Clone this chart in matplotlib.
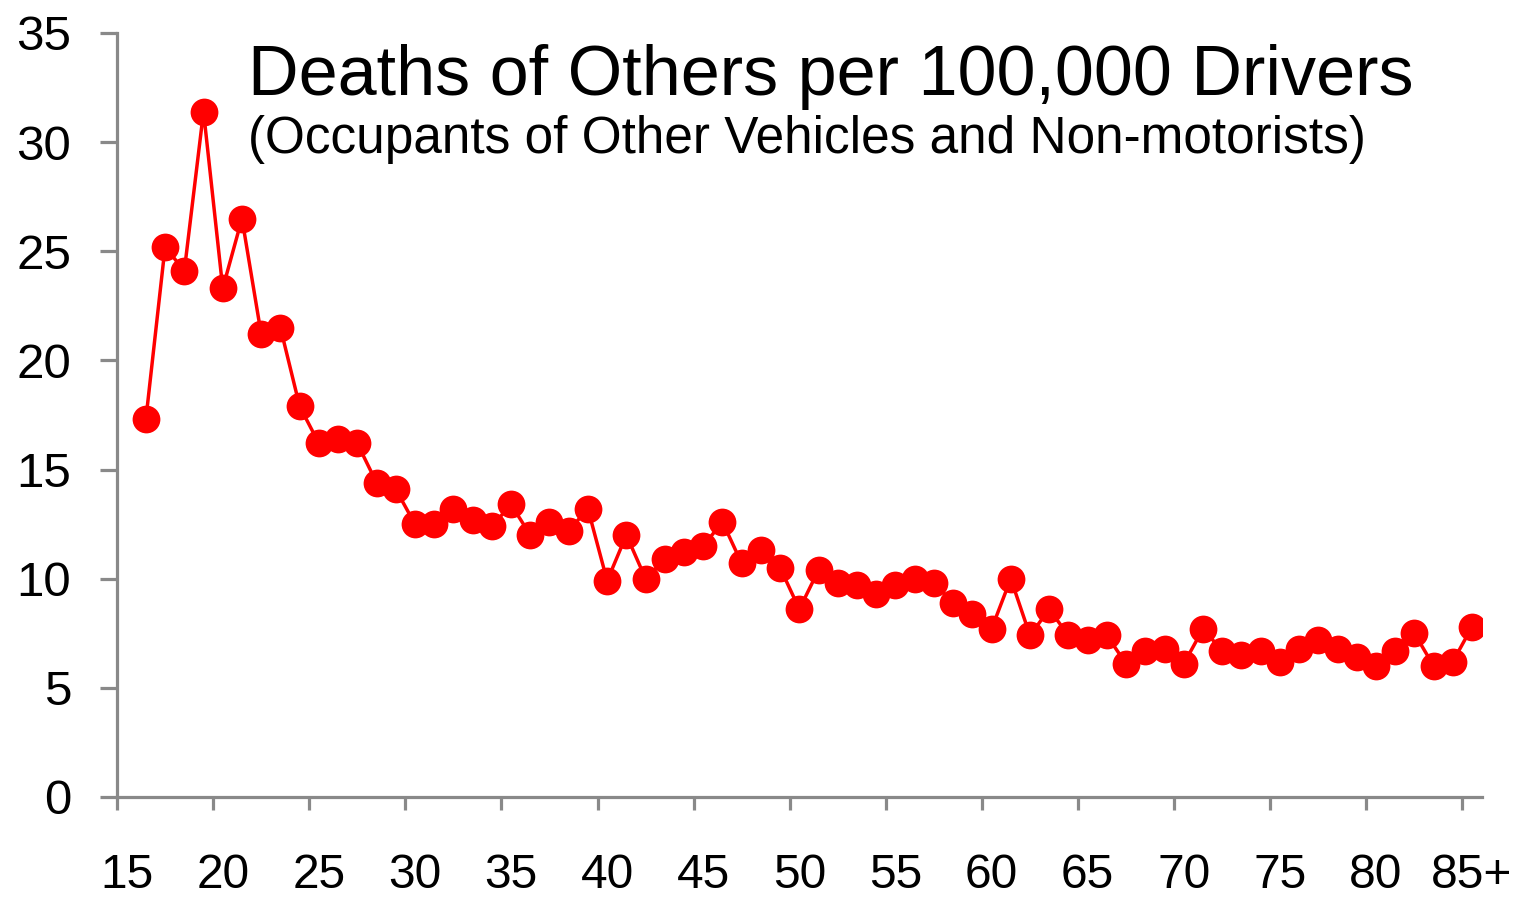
import numpy as np
import matplotlib.pyplot as plt
from matplotlib.ticker import FixedLocator, NullFormatter

plt.rcParams['font.family'] = ['Liberation Sans', 'DejaVu Sans']

# Возрастные категории (15 ... 85+), для 15 лет данных нет
categories = [str(a) for a in range(15, 85)] + ['85+']
ages = list(range(16, 86))
deaths = [17.3, 25.2, 24.1, 31.4, 23.3, 26.5, 21.2, 21.5, 17.9, 16.2,
          16.4, 16.2, 14.4, 14.1, 12.5, 12.5, 13.2, 12.7, 12.4, 13.4,
          12.0, 12.6, 12.2, 13.2, 9.9, 12.0, 10.0, 10.9, 11.2, 11.5,
          12.6, 10.7, 11.3, 10.5, 8.6, 10.4, 9.8, 9.7, 9.3, 9.7,
          10.0, 9.8, 8.9, 8.4, 7.7, 10.0, 7.4, 8.6, 7.4, 7.2,
          7.4, 6.1, 6.7, 6.8, 6.1, 7.7, 6.7, 6.5, 6.7, 6.2,
          6.8, 7.2, 6.8, 6.4, 6.0, 6.7, 7.5, 6.0, 6.2, 7.8]
label_every = 5

x = np.array(ages) - 15

fig = plt.figure(figsize=(15.22, 8.98), dpi=100)
ax = fig.add_axes([0.0769, 0.1125, 0.8966, 0.8508])

ax.plot(x, deaths, color='#ff0000', linewidth=2.5, marker='o',
        markersize=20, markeredgewidth=0)

ax.set_xlim(-0.5, len(categories) - 0.5)
ax.set_ylim(0, 35)
ax.set_yticks(np.arange(0, 36, 5))

# Засечки между категориями, подписи по центру категорий
ax.xaxis.set_major_locator(FixedLocator(np.arange(-0.5, len(categories) - 1, label_every)))
ax.xaxis.set_major_formatter(NullFormatter())
lab_pos = np.arange(0, len(categories), label_every)
ax.xaxis.set_minor_locator(FixedLocator(lab_pos))
ax.set_xticklabels([categories[i] for i in lab_pos], minor=True)

grey = '#898989'
for side in ['top', 'right']:
    ax.spines[side].set_visible(False)
for side in ['left', 'bottom']:
    ax.spines[side].set_color(grey)
    ax.spines[side].set_linewidth(2.3)

ax.tick_params(axis='y', which='major', direction='out', length=12, width=2.3,
               color=grey, labelsize=35.5, pad=21)
ax.tick_params(axis='x', which='major', direction='out', length=9, width=2.3,
               color=grey)
ax.tick_params(axis='x', which='minor', length=0, labelsize=34.5, pad=40)

fig.text(0.163, 0.894, 'Deaths of Others per 100,000 Drivers',
         fontsize=50.5, va='baseline', ha='left')
fig.text(0.163, 0.8296, '(Occupants of Other Vehicles and Non-motorists)',
         fontsize=37, va='baseline', ha='left')

plt.savefig('out.png', dpi=100)
